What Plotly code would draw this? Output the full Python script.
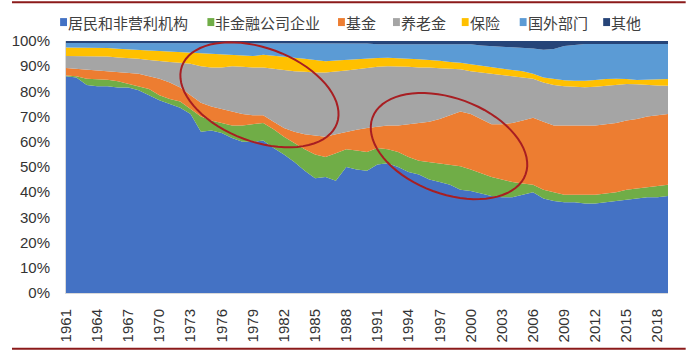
import numpy as np
import plotly.graph_objects as go

years = list(range(1961, 2020))

households = [86, 85.5, 82.5, 82, 82, 81.5, 81.5, 80.5, 78.5, 76.5,
              75, 73.5, 71, 64, 64.5, 63.5, 61.5, 60, 60, 60.5,
              57.5, 55, 52, 48.5, 45.5, 46, 44.5, 50, 49, 48.5,
              51, 51.5, 50, 48, 47, 45, 44, 43, 41, 40.5,
              39.5, 38.5, 38, 38, 39, 40, 37.5, 36.5, 36, 36,
              35.5, 35.5, 36, 36.5, 37, 37.5, 38, 38, 38.5]
nonfin_corp = [0.3, 0.5, 2.5, 2.8, 2.6, 2.5, 1.5, 1.5, 2.5, 2.0,
               2.0, 2.5, 2.0, 6.0, 4.0, 4.0, 5.0, 6.5, 7.0, 7.0,
               7.5, 7.0, 7.5, 8.5, 9.5, 8.0, 11.0, 7.0, 7.5, 7.5,
               6.5, 5.5, 6.0, 6.0, 5.5, 7.0, 7.5, 8.0, 9.3, 8.5,
               8.0, 7.5, 7.0, 6.0, 4.5, 3.0, 3.5, 3.5, 3.0, 3.0,
               3.5, 3.5, 3.5, 3.5, 4.0, 4.0, 4.0, 4.5, 4.5]
funds = [3.0, 3.0, 3.5, 3.4, 3.4, 3.7, 4.5, 5.0, 5.0, 6.5,
         6.5, 5.5, 5.5, 5.5, 5.5, 5.5, 5.5, 4.5, 3.5, 3.0,
         3.0, 3.5, 4.5, 6.0, 7.5, 8.0, 7.5, 7.0, 8.3, 9.5,
         8.5, 9.5, 10.5, 13.0, 15.0, 16.0, 17.5, 19.5, 21.7, 22.0,
         21.5, 21.0, 22.0, 23.5, 25.0, 26.5, 27.0, 26.5, 27.5, 27.5,
         27.5, 27.5, 27.5, 27.5, 27.5, 27.5, 28.0, 28.0, 28.0]
pensions = [4.7, 5.0, 5.5, 5.8, 5.8, 5.8, 5.8, 6.0, 6.5, 7.0,
            8.2, 9.9, 12.5, 14.5, 15.5, 16.5, 18.0, 18.8, 19.0, 19.0,
            21.0, 23.0, 24.0, 24.8, 25.0, 25.5, 24.8, 24.3, 24.0, 23.8,
            23.8, 23.5, 23.5, 22.8, 22.0, 21.5, 20.2, 18.5, 16.8, 17.0,
            18.5, 19.8, 19.3, 18.5, 17.0, 15.5, 15.5, 16.0, 15.5, 15.3,
            15.1, 15.3, 15.2, 15.0, 14.4, 13.8, 12.5, 11.8, 11.2]
insurance = [3.4, 3.4, 3.4, 3.4, 3.4, 3.4, 3.3, 3.4, 3.7, 4.0,
             4.1, 4.2, 4.4, 5.0, 5.3, 5.1, 4.5, 4.5, 4.5, 5.0,
             5.2, 5.3, 5.4, 5.2, 5.0, 4.5, 4.5, 4.3, 4.0, 3.7,
             3.5, 3.4, 3.3, 3.2, 3.3, 3.1, 3.0, 2.7, 2.6, 2.8,
             2.7, 2.7, 2.7, 2.5, 2.5, 2.0, 2.0, 2.3, 2.4, 2.4,
             2.6, 2.7, 2.7, 2.5, 2.0, 1.7, 2.1, 2.5, 2.7]
foreign = [1.8, 1.8, 1.8, 1.8, 2.0, 2.3, 2.6, 2.8, 3.0, 3.2,
           3.4, 3.6, 3.8, 4.2, 4.4, 4.4, 4.5, 4.7, 5.0, 4.5,
           4.8, 5.2, 5.6, 6.0, 6.5, 7.0, 6.7, 6.4, 6.2, 6.0,
           5.4, 5.3, 5.4, 5.7, 5.9, 6.1, 6.5, 7.0, 7.3, 7.9,
           8.0, 8.5, 8.8, 9.0, 9.4, 10.0, 11.0, 12.0, 13.6, 14.3,
           14.6, 14.3, 13.9, 13.8, 13.9, 14.3, 14.2, 14.0, 13.9]
others = [0.8, 0.8, 0.8, 0.8, 0.8, 0.8, 0.8, 0.8, 0.8, 0.8,
          0.8, 0.8, 0.8, 0.8, 0.8, 1.0, 1.0, 1.0, 1.0, 1.0,
          1.0, 1.0, 1.0, 1.0, 1.0, 1.0, 1.0, 1.0, 1.0, 1.0,
          1.3, 1.3, 1.3, 1.3, 1.3, 1.3, 1.3, 1.3, 1.3, 1.3,
          1.8, 2.0, 2.2, 2.5, 2.6, 3.0, 3.5, 3.2, 2.0, 1.5,
          1.2, 1.2, 1.2, 1.2, 1.2, 1.2, 1.2, 1.2, 1.2]

series_names = ["居民和非营利机构", "非金融公司企业", "基金", "养老金", "保险", "国外部门", "其他"]
series_values = [households, nonfin_corp, funds, pensions, insurance, foreign, others]
series_colors = ["#4472C4", "#70AD47", "#ED7D31", "#A5A5A5", "#FFC000", "#5B9BD5", "#264478"]
tick_years = list(range(1961, 2019, 3))

W, H = 700, 354
ML, MR, MT, MB = 55, 32, 41, 60
PW, PH = W - ML - MR, H - MT - MB


def px(x):
    return (x - ML) / PW


def py(y):
    return (H - MB - y) / PH


fig = go.Figure()
for name, vals, col in zip(series_names, series_values, series_colors):
    fig.add_trace(go.Scatter(
        x=years, y=vals, name=name, mode="lines", stackgroup="one",
        line=dict(width=0, color=col), fillcolor=col, showlegend=False,
        hoverinfo="x+y+name"))

shapes = []
annotations = []

# custom legend (squares + text)
legend_sq_x = [49, 199, 332, 388, 458, 517, 602]
for sx, name, col in zip(legend_sq_x, series_names, series_colors):
    shapes.append(dict(type="rect", xref="paper", yref="paper",
                       x0=px(sx), x1=px(sx + 7), y0=py(26), y1=py(18),
                       fillcolor=col, line=dict(width=0)))
    annotations.append(dict(text=name, xref="paper", yref="paper",
                            x=px(sx + 6), y=py(22), xanchor="left", yanchor="middle",
                            showarrow=False,
                            font=dict(family="Noto Sans CJK SC", size=15, color="#404040")))

# red ellipses (annotation marks)
def ellipse_path(cx, cy, a, b, theta_deg):
    th = np.radians(theta_deg)
    t = np.linspace(0, 2 * np.pi, 73)
    xs = cx + a * np.cos(t) * np.cos(th) - b * np.sin(t) * np.sin(th)
    ys = cy + a * np.cos(t) * np.sin(th) + b * np.sin(t) * np.cos(th)
    pts = [f"{px(x):.4f},{py(y):.4f}" for x, y in zip(xs, ys)]
    return "M " + " L ".join(pts) + " Z"

for (cx, cy, a, b) in [(252, 95, 84, 47), (445, 146.5, 83, 48)]:
    shapes.append(dict(type="path", xref="paper", yref="paper",
                       path=ellipse_path(cx, cy, a, b, 20),
                       line=dict(color="#A81E22", width=2)))

# decorative rules at top and bottom of the page
shapes.append(dict(type="line", xref="paper", yref="paper",
                   x0=px(0), x1=px(686), y0=py(2), y1=py(2),
                   line=dict(color="#8B1A1A", width=2)))
shapes.append(dict(type="line", xref="paper", yref="paper",
                   x0=px(0), x1=px(686), y0=py(350), y1=py(350),
                   line=dict(color="#8B1A1A", width=2)))

fig.update_layout(
    width=W, height=H, autosize=False,
    margin=dict(l=ML, r=MR, t=MT, b=MB, pad=0),
    paper_bgcolor="white", plot_bgcolor="white",
    showlegend=False,
    shapes=shapes, annotations=annotations,
    xaxis=dict(range=[1961, 2019], tickmode="array", tickvals=tick_years,
               ticktext=[str(y) for y in tick_years], tickangle=-90,
               tickfont=dict(family="Liberation Sans", size=15, color="#333333"),
               showgrid=False, zeroline=False, showline=True, linecolor="#D9D9D9",
               ticks="", ticklabelstandoff=9),
    yaxis=dict(range=[0, 100], tickmode="array", tickvals=list(range(0, 101, 10)),
               ticktext=[f"{v}%" for v in range(0, 101, 10)],
               tickfont=dict(family="Liberation Sans", size=15, color="#333333"),
               showgrid=False, zeroline=False, showline=True, linecolor="#D9D9D9",
               ticks="", ticklabelstandoff=12),
)

fig.write_html("out.html")
